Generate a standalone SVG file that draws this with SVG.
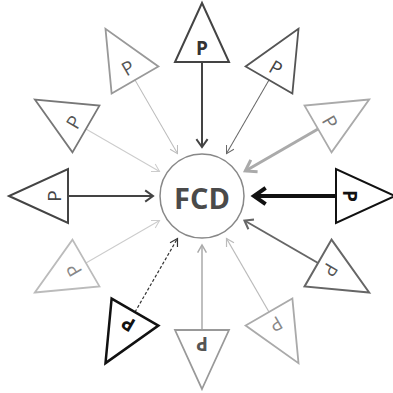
<svg xmlns="http://www.w3.org/2000/svg" width="393" height="393" viewBox="0 0 393 393">
<style>
.tri{fill:#fff;stroke-linejoin:miter}
.lbl{font-family:"Open Sans","DejaVu Sans",sans-serif;font-size:19px;text-anchor:middle}
.ln{fill:none;stroke-linecap:butt}
.hd{fill:none;stroke-linejoin:miter;stroke-linecap:square}
</style>
<rect width="393" height="393" fill="#fff"/>
<g id="connectors">
<g transform="translate(202,196) rotate(0)" stroke="#444"><line class="ln" x1="0" y1="-134" x2="0" y2="-49" stroke-width="2"/><polyline class="hd" points="-5,-56 0,-49 5,-56" stroke-width="2"/></g>
<g transform="translate(202,196) rotate(30)" stroke="#666"><line class="ln" x1="0" y1="-134" x2="0" y2="-49" stroke-width="1"/><polyline class="hd" points="-4,-56 0,-49 4,-56" stroke-width="1"/></g>
<g transform="translate(202,196) rotate(60)" stroke="#aaa"><line class="ln" x1="0" y1="-134" x2="0" y2="-50" stroke-width="3"/><polyline class="hd" points="-6,-59 0,-50 6,-59" stroke-width="3"/></g>
<g transform="translate(202,196) rotate(90)" stroke="#111"><line class="ln" x1="0" y1="-134" x2="0" y2="-52" stroke-width="4"/><polyline class="hd" points="-7,-62 0,-52 7,-62" stroke-width="4"/></g>
<g transform="translate(202,196) rotate(120)" stroke="#666"><line class="ln" x1="0" y1="-134" x2="0" y2="-49" stroke-width="2"/><polyline class="hd" points="-5,-56 0,-49 5,-56" stroke-width="2"/></g>
<g transform="translate(202,196) rotate(150)" stroke="#bbb"><line class="ln" x1="0" y1="-134" x2="0" y2="-49" stroke-width="1.2"/><polyline class="hd" points="-4,-56 0,-49 4,-56" stroke-width="1.2"/></g>
<g transform="translate(202,196) rotate(180)" stroke="#aaa"><line class="ln" x1="0" y1="-134" x2="0" y2="-49" stroke-width="1.5"/><polyline class="hd" points="-4,-56 0,-49 4,-56" stroke-width="1.5"/></g>
<g transform="translate(202,196) rotate(210)" stroke="#333"><line class="ln" x1="0" y1="-134" x2="0" y2="-49" stroke-width="1.2" stroke-dasharray="3,2"/><polyline class="hd" points="-4,-56 0,-49 4,-56" stroke-width="1.2"/></g>
<g transform="translate(202,196) rotate(240)" stroke="#ccc"><line class="ln" x1="0" y1="-134" x2="0" y2="-49" stroke-width="1"/><polyline class="hd" points="-4,-56 0,-49 4,-56" stroke-width="1"/></g>
<g transform="translate(202,196) rotate(270)" stroke="#444"><line class="ln" x1="0" y1="-134" x2="0" y2="-49" stroke-width="2"/><polyline class="hd" points="-5,-56 0,-49 5,-56" stroke-width="2"/></g>
<g transform="translate(202,196) rotate(300)" stroke="#ccc"><line class="ln" x1="0" y1="-134" x2="0" y2="-49" stroke-width="1"/><polyline class="hd" points="-4,-56 0,-49 4,-56" stroke-width="1"/></g>
<g transform="translate(202,196) rotate(330)" stroke="#bbb"><line class="ln" x1="0" y1="-134" x2="0" y2="-49" stroke-width="1"/><polyline class="hd" points="-4,-56 0,-49 4,-56" stroke-width="1"/></g>
</g>
<g id="fcd">
<circle cx="202" cy="196" r="42" fill="#fff" stroke="#888" stroke-width="1.5"/>
<text x="202" y="209" font-family="'Open Sans','DejaVu Sans',sans-serif" font-size="29" font-weight="bold" fill="#4a4a4a" text-anchor="middle">FCD</text>
</g>
<g id="p0" transform="translate(202,196) rotate(0)"><polygon class="tri" points="0,-193 -27,-134 27,-134" stroke="#444" stroke-width="2"/><text class="lbl" x="0" y="-141" fill="#333" font-weight="bold">P</text></g>
<g id="p30" transform="translate(202,196) rotate(30)"><polygon class="tri" points="0,-193 -27,-134 27,-134" stroke="#555" stroke-width="1.8"/><text class="lbl" x="0" y="-141" fill="#444">P</text></g>
<g id="p60" transform="translate(202,196) rotate(60)"><polygon class="tri" points="0,-193 -27,-134 27,-134" stroke="#aaa" stroke-width="1.8"/><text class="lbl" x="0" y="-141" fill="#777">P</text></g>
<g id="p90" transform="translate(202,196) rotate(90)"><polygon class="tri" points="0,-193 -27,-134 27,-134" stroke="#111" stroke-width="2"/><text class="lbl" x="0" y="-141" fill="#111" font-weight="bold">P</text></g>
<g id="p120" transform="translate(202,196) rotate(120)"><polygon class="tri" points="0,-193 -27,-134 27,-134" stroke="#666" stroke-width="2"/><text class="lbl" x="0" y="-141" fill="#555">P</text></g>
<g id="p150" transform="translate(202,196) rotate(150)"><polygon class="tri" points="0,-193 -27,-134 27,-134" stroke="#aaa" stroke-width="1.8"/><text class="lbl" x="0" y="-141" fill="#888">P</text></g>
<g id="p180" transform="translate(202,196) rotate(180)"><polygon class="tri" points="0,-193 -27,-134 27,-134" stroke="#999" stroke-width="1.8"/><text class="lbl" x="0" y="-141" fill="#555" font-weight="bold">P</text></g>
<g id="p210" transform="translate(202,196) rotate(210)"><polygon class="tri" points="0,-193 -27,-134 27,-134" stroke="#111" stroke-width="2.5"/><text class="lbl" x="0" y="-141" fill="#111" font-weight="bold">P</text></g>
<g id="p240" transform="translate(202,196) rotate(240)"><polygon class="tri" points="0,-193 -27,-134 27,-134" stroke="#bbb" stroke-width="1.8"/><text class="lbl" x="0" y="-141" fill="#888">P</text></g>
<g id="p270" transform="translate(202,196) rotate(270)"><polygon class="tri" points="0,-193 -27,-134 27,-134" stroke="#444" stroke-width="2"/><text class="lbl" x="0" y="-141" fill="#444">P</text></g>
<g id="p300" transform="translate(202,196) rotate(300)"><polygon class="tri" points="0,-193 -27,-134 27,-134" stroke="#777" stroke-width="1.8"/><text class="lbl" x="0" y="-141" fill="#555">P</text></g>
<g id="p330" transform="translate(202,196) rotate(330)"><polygon class="tri" points="0,-193 -27,-134 27,-134" stroke="#999" stroke-width="1.8"/><text class="lbl" x="0" y="-141" fill="#555">P</text></g>
</svg>
